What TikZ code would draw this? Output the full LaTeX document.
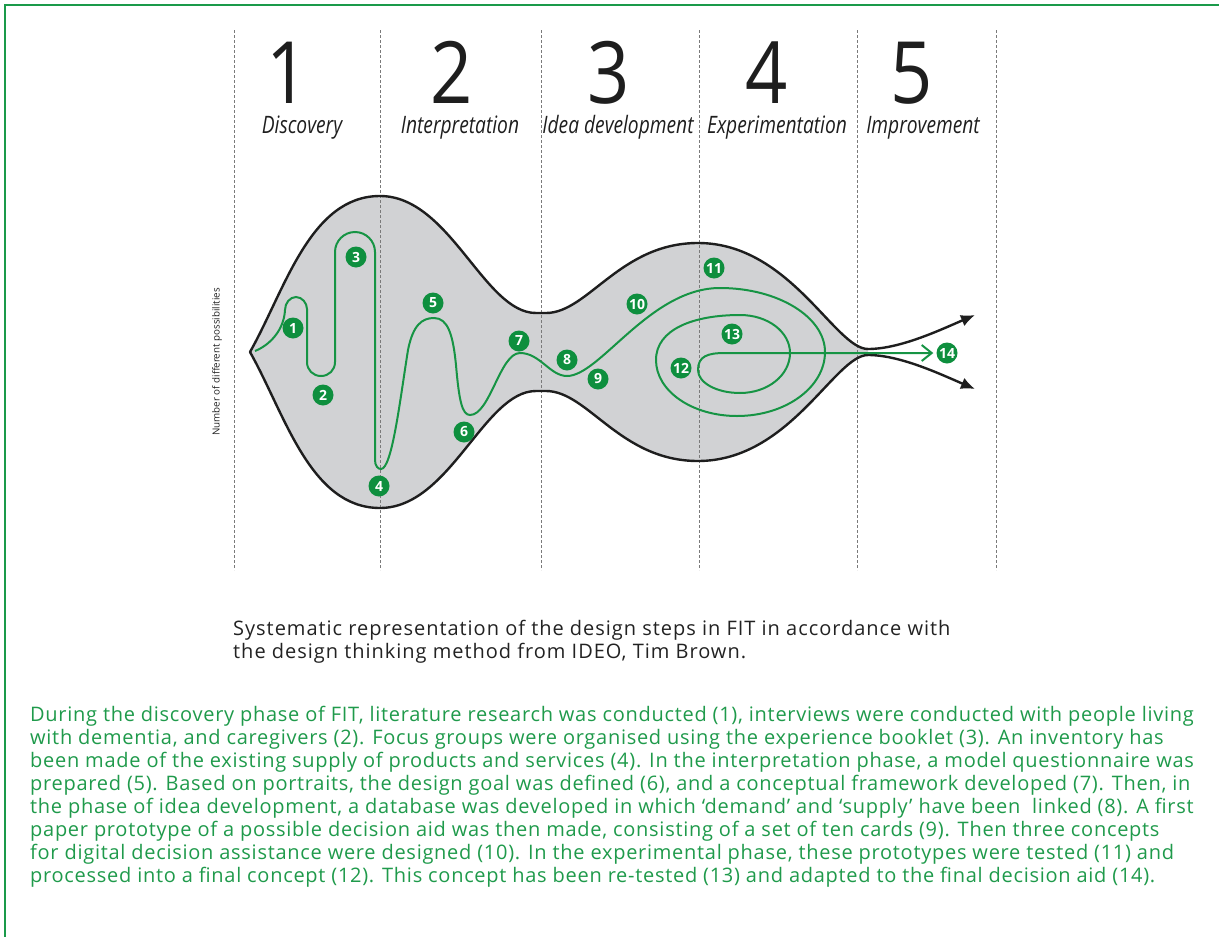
\documentclass[tikz,border=0pt]{standalone}
\usepackage{fontspec}
\setmainfont{Open Sans}
\newfontfamily\condfont[FakeStretch=0.8]{Open Sans}
\newfontfamily\numfont[FakeStretch=0.86]{Open Sans}
\newfontfamily\capfont[LetterSpace=4.9]{Open Sans}
\newfontfamily\parafont[LetterSpace=3.6]{Open Sans}
\usetikzlibrary{arrows.meta}
\definecolor{framegreen}{HTML}{1A9A4A}
\definecolor{textgreen}{HTML}{1F9A4B}
\definecolor{badgegreen}{HTML}{0E8F3E}
\definecolor{flowgreen}{HTML}{169444}
\definecolor{shapegray}{HTML}{D1D2D4}
\definecolor{dashgray}{HTML}{7A7A7A}
\definecolor{outlineblack}{HTML}{1E1E1E}
\definecolor{captiongray}{HTML}{222222}
\begin{document}
\begin{tikzpicture}[x=1pt,y=-1pt,
  phaseline/.style={draw=dashgray, line width=0.8pt, dash pattern=on 3pt off 2pt},
  bignum/.style={font=\numfont\fontsize{86}{86}\selectfont, anchor=base, inner sep=0pt, text depth=0pt, text=outlineblack},
  phaselabel/.style={font=\condfont\itshape\fontsize{24}{24}\selectfont, anchor=base, inner sep=0pt, text=outlineblack},
  badge/.style={circle, fill=badgegreen, text=white, inner sep=0pt, minimum size=21pt, font=\bfseries\fontsize{14}{14}\selectfont},
  outline/.style={line width=2.4pt, draw=outlineblack, line cap=round},
  flow/.style={draw=flowgreen, line width=2pt},
  capline/.style={anchor=base west, inner sep=0pt, text=captiongray, font=\capfont\fontsize{20}{23}\selectfont},
  paraline/.style={anchor=base west, inner sep=0pt, text=textgreen, font=\parafont\fontsize{20}{23}\selectfont}
]
\useasboundingbox (0,0) rectangle (1219,937);
% frame
\draw[framegreen, line width=2.6pt] (5,937) -- (5,5) -- (1219,5);

% shape fill
\path[fill=shapegray] (250,352) .. controls (285,290) and (310,196) .. (380,196)
  .. controls (450,196) and (484,313) .. (536,313) -- (546,313)
  .. controls (588,313) and (620,243) .. (698,243)
  .. controls (790,243) and (835,349) .. (868,349)
  -- (868,355)
  .. controls (835,355) and (790,461) .. (698,461)
  .. controls (620,461) and (588,391) .. (546,391) -- (536,391)
  .. controls (484,391) and (450,508) .. (380,508)
  .. controls (310,508) and (285,414) .. (250,352) -- cycle;

% phase lines
\foreach \x in {234,380,541,699,857,996}
  \draw[phaseline] (\x,30) -- (\x,570);

% outline with arrows
\draw[outline, -{Latex[length=14pt,width=12pt]}] (250,352) .. controls (285,290) and (310,196) .. (380,196)
  .. controls (450,196) and (484,313) .. (536,313) -- (546,313)
  .. controls (588,313) and (620,243) .. (698,243)
  .. controls (790,243) and (835,349) .. (868,349)
  .. controls (900,349) and (940,330) .. (975,315);
\draw[outline, -{Latex[length=14pt,width=12pt]}] (250,352) .. controls (285,414) and (310,508) .. (380,508)
  .. controls (450,508) and (484,391) .. (536,391) -- (546,391)
  .. controls (588,391) and (620,461) .. (698,461)
  .. controls (790,461) and (835,355) .. (868,355)
  .. controls (900,355) and (940,374) .. (975,389);

% badges
\node[badge] (b1) at (293,328) {1};
\node[badge] (b2) at (323,395) {2};
\node[badge] (b3) at (356,257) {3};
\node[badge] (b4) at (379,486) {4};
\node[badge] (b5) at (433,303) {5};
\node[badge] (b6) at (464,432) {6};
\node[badge] (b7) at (519,341) {7};
\node[badge] (b8) at (567,360) {8};
\node[badge] (b9) at (598,379) {9};
\node[badge] (b10) at (637,304) {10};
\node[badge] (b11) at (714,268) {11};
\node[badge] (b12) at (681,368) {12};
\node[badge] (b13) at (732,334) {13};
\node[badge] (b14) at (947,353) {14};

% green flow
\coordinate (fstart) at (255,351);
\draw[flow, shorten >=3pt, -{Straight Barb[length=10pt,width=16pt]}] (fstart)
  .. controls (270,345) and (284,330) .. (285,310)
  .. controls (285,303) and (290,297) .. (296,297)
  .. controls (302,297) and (307,303) .. (307,309)
  -- (307,362)
  .. controls (307,370) and (313,376) .. (321,376)
  .. controls (329,376) and (335,370) .. (335,362)
  -- (335,252)
  .. controls (335,241) and (344,232) .. (355,232)
  .. controls (366,232) and (375,241) .. (375,252)
  -- (375,460)
  .. controls (375,466) and (378,469) .. (381,469)
  .. controls (392,469) and (400,400) .. (408,350)
  .. controls (413,325) and (422,318) .. (434,318)
  .. controls (448,318) and (453,335) .. (456,365)
  .. controls (459,400) and (462,415) .. (470,415)
  .. controls (490,415) and (500,353) .. (520,353)
  .. controls (540,353) and (550,376) .. (567,376)
  .. controls (600,376) and (650,288) .. (720,288)
  .. controls (778,288) and (825,317) .. (825,352)
  .. controls (825,387) and (786,416) .. (737,416)
  .. controls (692,416) and (656,391) .. (656,360)
  .. controls (656,329) and (694,315) .. (740,315)
  .. controls (768,315) and (790,332) .. (790,353)
  .. controls (790,375) and (768,393) .. (740,393)
  .. controls (717,393) and (698,383) .. (698,370)
  .. controls (698,356) and (708,353) .. (725,353)
  -- (b14.west);

% vertical axis label
\node[rotate=90, inner sep=0pt, text=captiongray, font=\fontsize{9.8}{9.8}\selectfont] (axis) at (217,362) {Number of different possibilities};

% phase numbers and labels
\node[bignum] (n1) at (288,103) {1};
\node[bignum] (n2) at (452,103) {2};
\node[bignum] (n3) at (609,103) {3};
\node[bignum] (n4) at (767,103) {4};
\node[bignum] (n5) at (912,103) {5};
\node[phaselabel] (l1) at (302,133) {Discovery};
\node[phaselabel] (l2) at (460,133) {Interpretation};
\node[phaselabel] (l3) at (618,133) {Idea development};
\node[phaselabel] (l4) at (777,133) {Experimentation};
\node[phaselabel] (l5) at (923,133) {Improvement};

% caption
\node[capline] (c1) at (233,635) {Systematic representation of the design steps in FIT in accordance with};
\node[capline] (c2) at (233,658) {the design thinking method from IDEO, Tim Brown.};

% paragraph
\node[paraline] (p1) at (30,721) {During the discovery phase of FIT, literature research was conducted (1), interviews were conducted with people living};
\node[paraline] (p2) at (30,744) {with dementia, and caregivers (2). Focus groups were organised using the experience booklet (3). An inventory has};
\node[paraline] (p3) at (30,767) {been made of the existing supply of products and services (4). In the interpretation phase, a model questionnaire was};
\node[paraline] (p4) at (30,790) {prepared (5). Based on portraits, the design goal was defined (6), and a conceptual framework developed (7). Then, in};
\node[paraline] (p5) at (30,813) {the phase of idea development, a database was developed in which ‘demand’ and ‘supply’ have been \ linked (8). A first};
\node[paraline] (p6) at (30,836) {paper prototype of a possible decision aid was then made, consisting of a set of ten cards (9). Then three concepts};
\node[paraline] (p7) at (30,859) {for digital decision assistance were designed (10). In the experimental phase, these prototypes were tested (11) and};
\node[paraline] (p8) at (30,882) {processed into a final concept (12). This concept has been re-tested (13) and adapted to the final decision aid (14).};
\end{tikzpicture}
\end{document}
